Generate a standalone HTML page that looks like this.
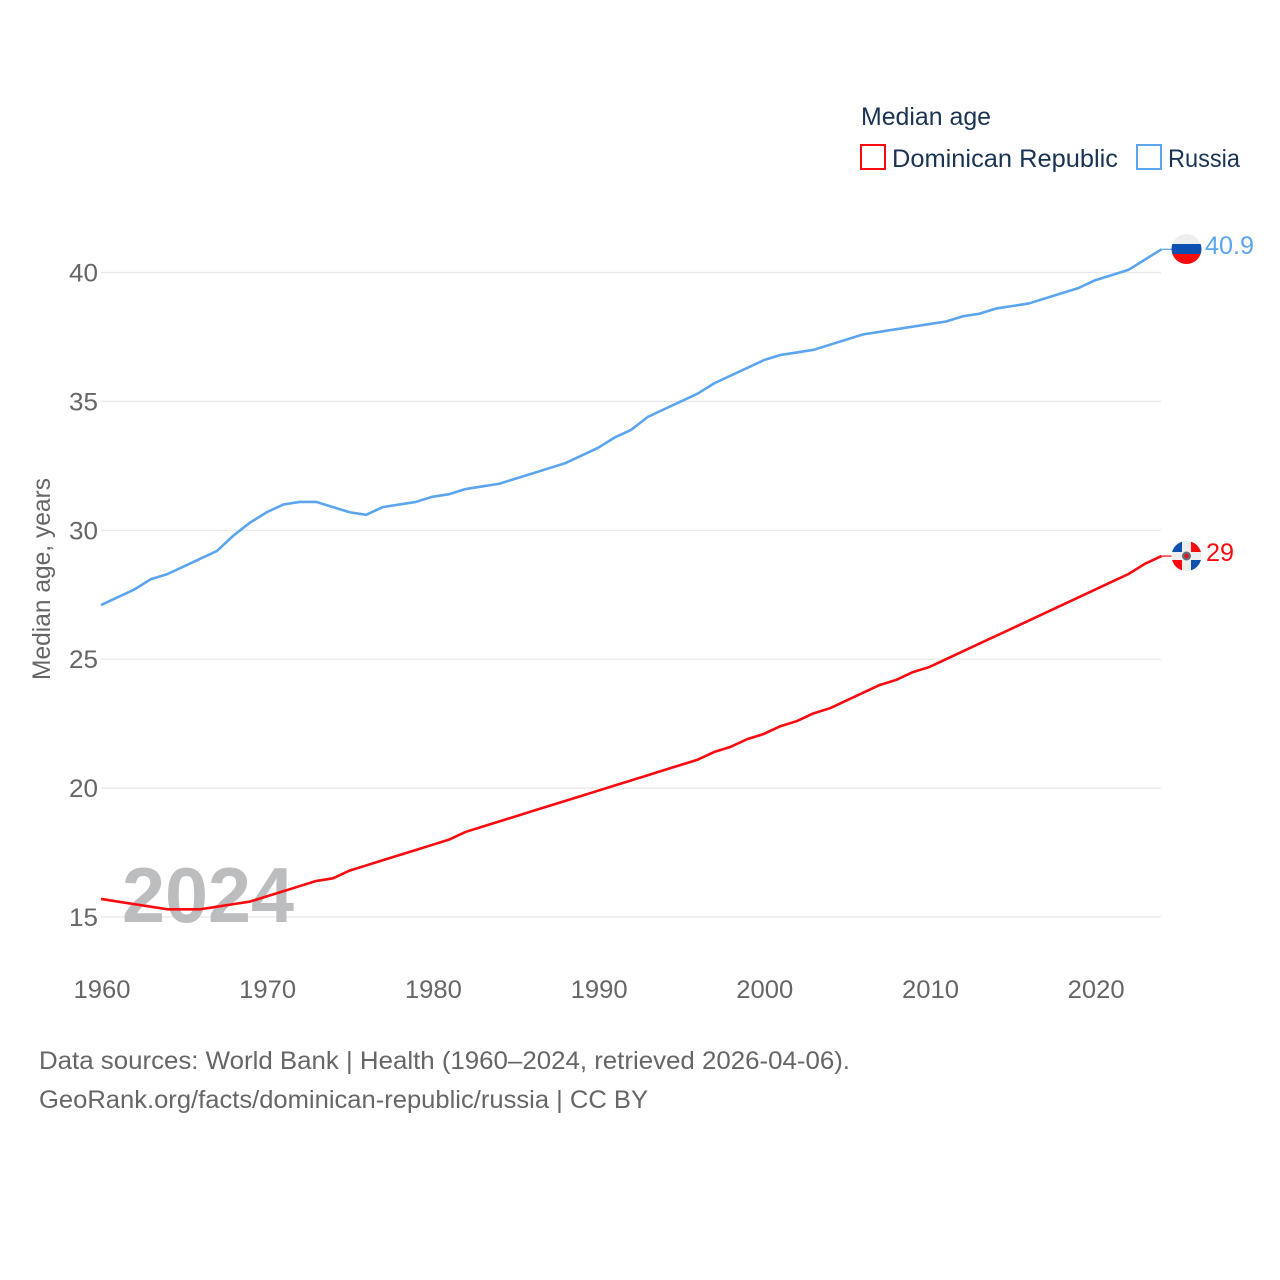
<!DOCTYPE html>
<html>
<head>
<meta charset="utf-8">
<title>Median age</title>
<style>
html,body{margin:0;padding:0;background:#fff;width:1280px;height:1280px;overflow:hidden}
svg{display:block}
text{font-family:"Liberation Sans",sans-serif}
</style>
</head>
<body>
<svg id="chart" xmlns="http://www.w3.org/2000/svg" width="1280" height="1280" viewBox="0 0 1280 1280">
  <defs>
    <clipPath id="clip-ru"><circle cx="1186.5" cy="249" r="15"/></clipPath>
    <clipPath id="clip-do"><circle cx="1186.5" cy="556" r="15"/></clipPath>
  </defs>
  <g id="grid"></g>
  <g id="yticks"></g>
  <g id="xticks"></g>
  <text transform="translate(50,680) rotate(-90)" font-size="25" fill="#666666" textLength="202" lengthAdjust="spacingAndGlyphs">Median age, years</text>
  <text x="122" y="922" font-size="78" font-weight="bold" fill="#bcbdbf" textLength="172" lengthAdjust="spacingAndGlyphs">2024</text>
  <g id="series"></g>

  <g clip-path="url(#clip-ru)">
    <rect x="1171" y="234" width="31" height="10" fill="#eeeeee"/>
    <rect x="1171" y="244" width="31" height="10" fill="#0d50b0"/>
    <rect x="1171" y="254" width="31" height="10" fill="#fb0a0f"/>
  </g>
  <g clip-path="url(#clip-do)">
    <rect x="1171" y="541" width="31" height="30" fill="#eeeeee"/>
    <rect x="1171" y="541" width="11" height="11" fill="#0d50b0"/>
    <rect x="1191" y="541" width="11" height="11" fill="#fb0a0f"/>
    <rect x="1171" y="560" width="11" height="11" fill="#fb0a0f"/>
    <rect x="1191" y="560" width="11" height="11" fill="#0d50b0"/>
    <circle cx="1186.5" cy="556" r="4.5" fill="#666b78"/>
    <circle cx="1186.5" cy="556" r="2.2" fill="#e8101a"/>
  </g>
  <text x="1205" y="254" font-size="25" fill="#5ba5ee" textLength="49" lengthAdjust="spacingAndGlyphs">40.9</text>
  <text x="1206" y="561" font-size="25" fill="#fb0a0f" textLength="28" lengthAdjust="spacingAndGlyphs">29</text>

  <g>
    <text x="861" y="125" font-size="25" fill="#1a3353" textLength="130" lengthAdjust="spacingAndGlyphs">Median age</text>
    <g>
      <rect x="861" y="145" width="24" height="24" fill="#fff" stroke="#fb0a0f" stroke-width="2"/>
      <text x="892" y="167" font-size="25" fill="#1a3353" textLength="226" lengthAdjust="spacingAndGlyphs">Dominican Republic</text>
    </g>
    <g>
      <rect x="1137" y="145" width="24" height="24" fill="#fff" stroke="#5ba5ee" stroke-width="2"/>
      <text x="1168" y="167" font-size="25" fill="#1a3353" textLength="72" lengthAdjust="spacingAndGlyphs">Russia</text>
    </g>
  </g>

  <text x="39" y="1069" font-size="25" fill="#666666" textLength="811" lengthAdjust="spacingAndGlyphs">Data sources: World Bank | Health (1960–2024, retrieved 2026-04-06).</text>
  <text x="39" y="1108" font-size="25" fill="#666666" textLength="609" lengthAdjust="spacingAndGlyphs">GeoRank.org/facts/dominican-republic/russia | CC BY</text>
</svg>
<script>
const startYear = 1960;
const yTickValues = [15, 20, 25, 30, 35, 40];
const xTickYears = [1960, 1970, 1980, 1990, 2000, 2010, 2020];
const russiaValues = [27.1,27.4,27.7,28.1,28.3,28.6,28.9,29.2,29.8,30.3,30.7,31.0,31.1,31.1,30.9,30.7,30.6,30.9,31.0,31.1,31.3,31.4,31.6,31.7,31.8,32.0,32.2,32.4,32.6,32.9,33.2,33.6,33.9,34.4,34.7,35.0,35.3,35.7,36.0,36.3,36.6,36.8,36.9,37.0,37.2,37.4,37.6,37.7,37.8,37.9,38.0,38.1,38.3,38.4,38.6,38.7,38.8,39.0,39.2,39.4,39.7,39.9,40.1,40.5,40.9];
const dominicanValues = [15.7,15.6,15.5,15.4,15.3,15.3,15.3,15.4,15.5,15.6,15.8,16.0,16.2,16.4,16.5,16.8,17.0,17.2,17.4,17.6,17.8,18.0,18.3,18.5,18.7,18.9,19.1,19.3,19.5,19.7,19.9,20.1,20.3,20.5,20.7,20.9,21.1,21.4,21.6,21.9,22.1,22.4,22.6,22.9,23.1,23.4,23.7,24.0,24.2,24.5,24.7,25.0,25.3,25.6,25.9,26.2,26.5,26.8,27.1,27.4,27.7,28.0,28.3,28.7,29.0];

const NS = 'http://www.w3.org/2000/svg';
const xScale = function (year) { return 101 + (year - 1960) * 16.57; };
const yScale = function (value) { return 917 - (value - 15) * 25.78; };

const grid = document.getElementById('grid');
const yticks = document.getElementById('yticks');
const xticks = document.getElementById('xticks');
const series = document.getElementById('series');

yTickValues.forEach(function (v) {
  const line = document.createElementNS(NS, 'line');
  
  
  line.setAttribute('x1', 101);
  line.setAttribute('x2', 1161);
  line.setAttribute('y1', yScale(v));
  line.setAttribute('y2', yScale(v));
  line.setAttribute('stroke', '#e7e7e7');
  line.setAttribute('stroke-width', '1.2');
  grid.appendChild(line);

  const t = document.createElementNS(NS, 'text');
  
  
  t.setAttribute('x', 69);
  t.setAttribute('y', yScale(v) + 9);
  t.setAttribute('font-size', '25');
  t.setAttribute('fill', '#666666');
  t.setAttribute('textLength', '29');
  t.setAttribute('lengthAdjust', 'spacingAndGlyphs');
  t.textContent = String(v);
  yticks.appendChild(t);
});

xTickYears.forEach(function (y) {
  const t = document.createElementNS(NS, 'text');
  
  
  t.setAttribute('x', xScale(y) - 27.5);
  t.setAttribute('y', 998);
  t.setAttribute('font-size', '25');
  t.setAttribute('fill', '#666666');
  t.setAttribute('textLength', '57');
  t.setAttribute('lengthAdjust', 'spacingAndGlyphs');
  t.textContent = String(y);
  xticks.appendChild(t);
});

function drawSeries(values, color, name) {
  const d = values.map(function (v, i) {
    return (i ? 'L' : 'M') + xScale(startYear + i).toFixed(2) + ' ' + yScale(v).toFixed(2);
  }).join(' ');
  const p = document.createElementNS(NS, 'path');
  
  
  p.setAttribute('d', d);
  p.setAttribute('fill', 'none');
  p.setAttribute('stroke', color);
  p.setAttribute('stroke-width', '2.6');
  p.setAttribute('stroke-linejoin', 'round');
  series.appendChild(p);

  const lastY = yScale(values[values.length - 1]);
  const c = document.createElementNS(NS, 'line');
  
  
  c.setAttribute('x1', xScale(startYear + values.length - 1));
  c.setAttribute('x2', 1172);
  c.setAttribute('y1', lastY);
  c.setAttribute('y2', lastY);
  c.setAttribute('stroke', color);
  c.setAttribute('stroke-width', '1.2');
  series.appendChild(c);
}
drawSeries(russiaValues, '#5ba5ee', 'russia-line');
drawSeries(dominicanValues, '#fb0a0f', 'dominican-republic-line');
</script>
</body>
</html>
